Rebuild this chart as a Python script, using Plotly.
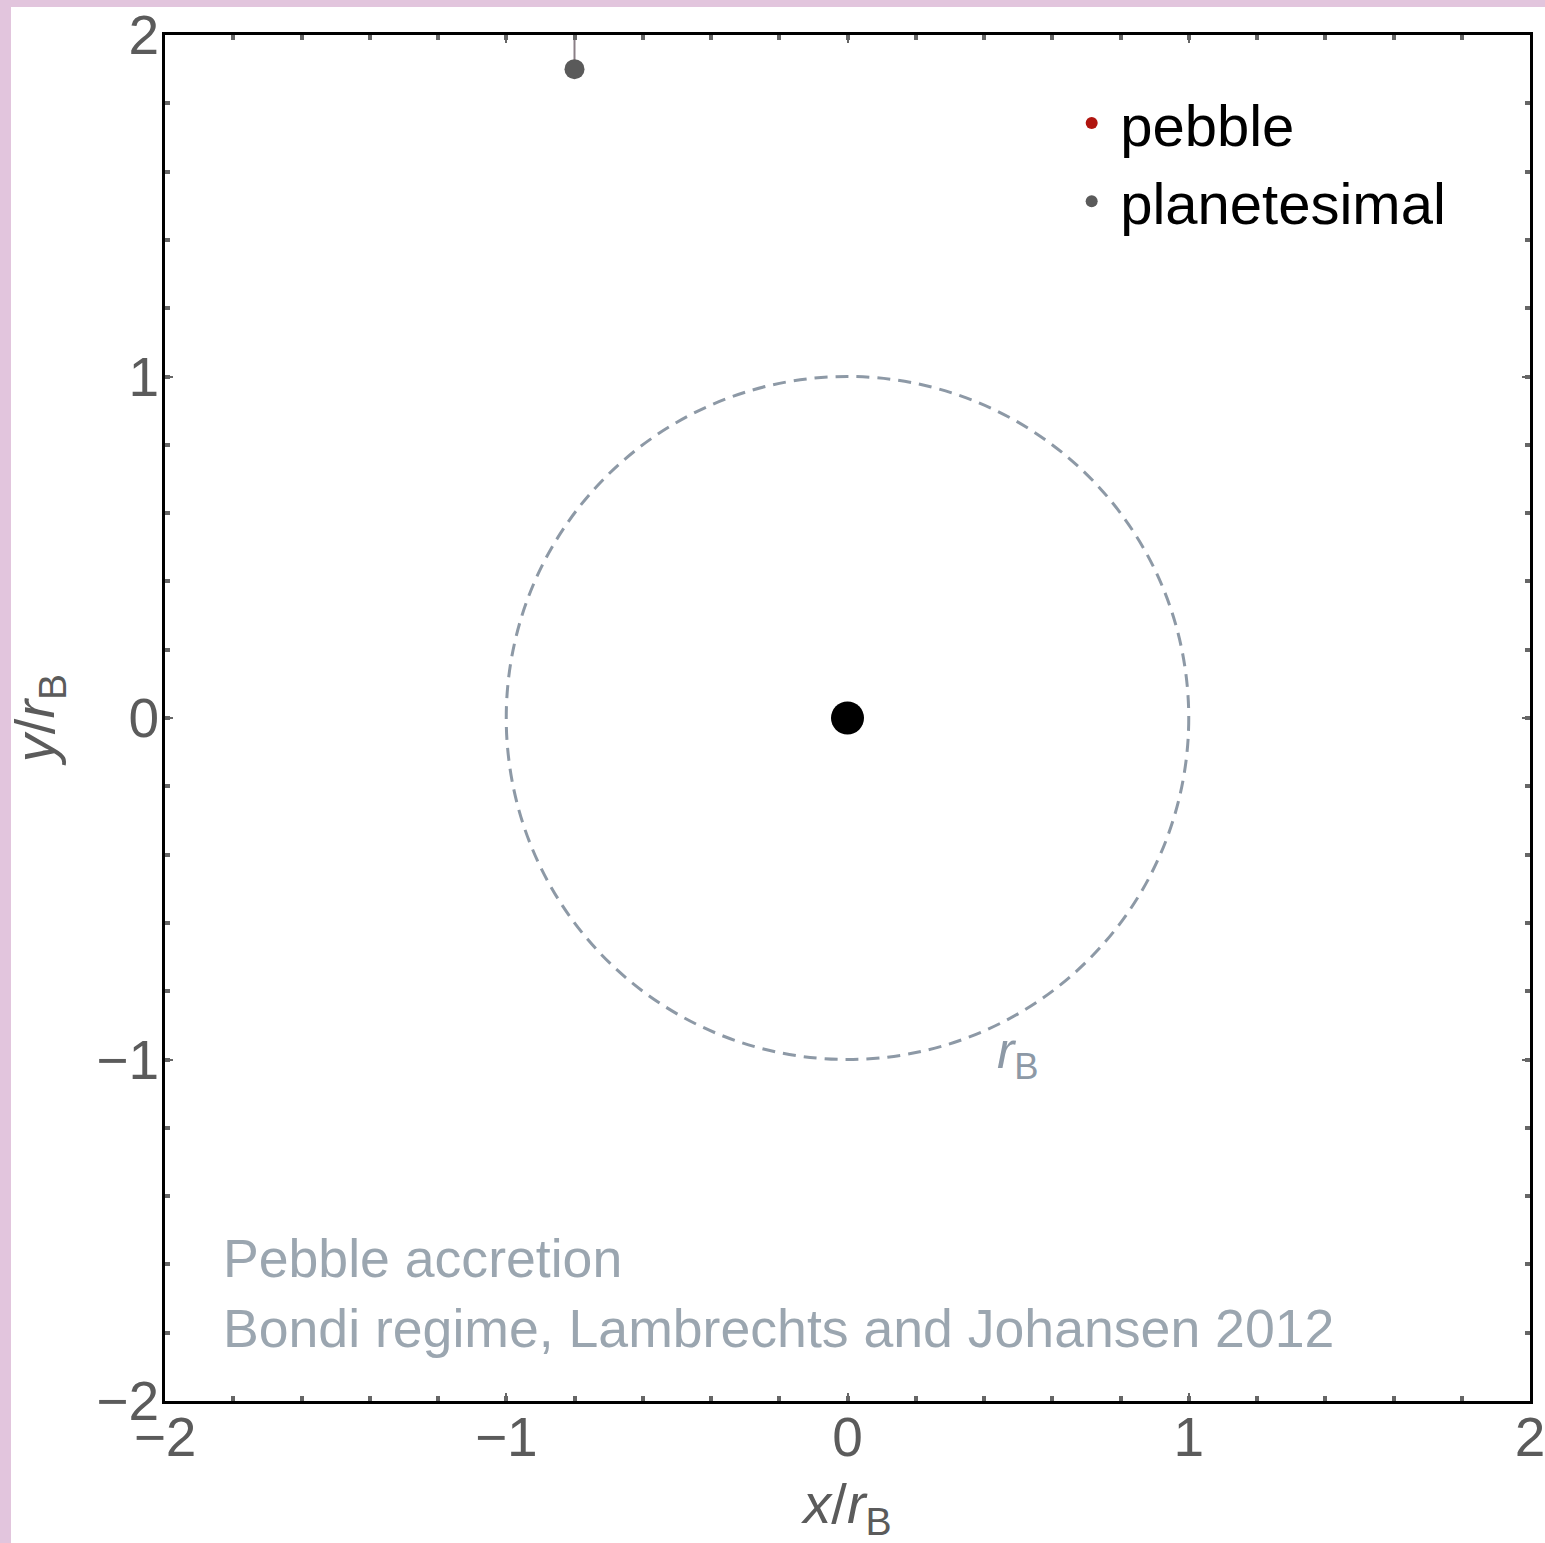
import plotly.graph_objects as go

# ---- data ----
axis_range = [-2, 2]
tick_vals = [-2, -1, 0, 1, 2]
tick_text = ["\u22122", "\u22121", "0", "1", "2"]

planet_x = [0.0]
planet_y = [0.0]

bondi_radius = 1.0

planetesimal_trail_x = [-0.8, -0.8]
planetesimal_trail_y = [2.0, 1.9]
planetesimal_x = [-0.8]
planetesimal_y = [1.9]

pebble_x = [None]
pebble_y = [None]

label_lines = ["Pebble accretion", "Bondi regime, Lambrechts and Johansen 2012"]

# ---- style ----
FONT = "Liberation Sans, Arial, Helvetica, sans-serif"
TICK_GRAY = "#5b5b5b"
CIRCLE_COL = "#8d99a6"
NOTE_COL = "#9ba6b0"

fig = go.Figure()

fig.add_trace(go.Scatter(
    x=planetesimal_trail_x, y=planetesimal_trail_y, mode="lines",
    line=dict(color="#8a7f86", width=2), showlegend=False, hoverinfo="skip", cliponaxis=False))

fig.add_trace(go.Scatter(
    x=pebble_x, y=pebble_y, mode="markers", name="pebble",
    marker=dict(color="#b0150f", size=14)))

fig.add_trace(go.Scatter(
    x=planetesimal_x, y=planetesimal_y, mode="markers", name="planetesimal",
    marker=dict(color="#5a5a5a", size=20)))

fig.add_trace(go.Scatter(
    x=planet_x, y=planet_y, mode="markers", showlegend=False,
    marker=dict(color="black", size=33)))

# Bondi radius circle
fig.add_shape(type="circle", xref="x", yref="y",
              x0=-bondi_radius, x1=bondi_radius, y0=-bondi_radius, y1=bondi_radius,
              line=dict(color=CIRCLE_COL, width=3, dash="13px,8px"), layer="below")

# pink frame background + white page
fig.add_shape(type="rect", xref="paper", yref="paper",
              x0=(11 - 165) / 1365, x1=1.02, y0=-0.11, y1=(1401 - 7) / 1366,
              fillcolor="white", line=dict(width=0), layer="below")

fig.add_annotation(x=0.5, y=-0.985, xref="x", yref="y",
                   text="<i>r</i><sub>B</sub>", showarrow=False,
                   font=dict(family=FONT, size=52, color=CIRCLE_COL), xanchor="center", yanchor="middle")

fig.add_annotation(x=-1.835, y=-1.58, xref="x", yref="y", text=label_lines[0],
                   showarrow=False, xanchor="left", yanchor="middle",
                   font=dict(family=FONT, size=53.6, color=NOTE_COL))
fig.add_annotation(x=-1.835, y=-1.785, xref="x", yref="y", text=label_lines[1],
                   showarrow=False, xanchor="left", yanchor="middle",
                   font=dict(family=FONT, size=53.6, color=NOTE_COL))

axis_common = dict(
    range=axis_range, tickvals=tick_vals, ticktext=tick_text,
    showgrid=False, zeroline=False, showline=True, linecolor="black", linewidth=3,
    mirror="allticks", ticks="inside", ticklen=8, tickwidth=2, tickcolor="#666666",
    minor=dict(dtick=0.2, tick0=0, ticks="inside", ticklen=5, tickwidth=4, tickcolor="#666666", showgrid=False),
    tickfont=dict(family=FONT, size=55, color=TICK_GRAY),
    automargin=False, ticklabeloverflow="allow",
)

fig.update_xaxes(**axis_common, ticklabelstandoff=-14,
                 title=dict(text="<i>x</i>/<i>r</i><sub>B</sub>", font=dict(family=FONT, size=56, color=TICK_GRAY), standoff=30))
fig.update_yaxes(**axis_common, ticklabelstandoff=-8,
                 title=dict(text="<i>y</i>/<i>r</i><sub>B</sub>", font=dict(family=FONT, size=56, color=TICK_GRAY), standoff=24))

fig.update_layout(
    width=1545, height=1543,
    margin=dict(l=165, r=15, t=35, b=142, pad=0, autoexpand=False),
    paper_bgcolor="#e2c5dd", plot_bgcolor="white",
    font=dict(family=FONT),
    legend=dict(x=0.658, y=0.968, xanchor="left", yanchor="top",
                font=dict(family=FONT, size=58, color="black"),
                bgcolor="rgba(0,0,0,0)", itemsizing="constant", itemwidth=47, tracegroupgap=0),
)

fig.write_html("out.html", config={"displayModeBar": False},
               post_script="document.body.style.margin='0';document.body.style.overflow='hidden';")
